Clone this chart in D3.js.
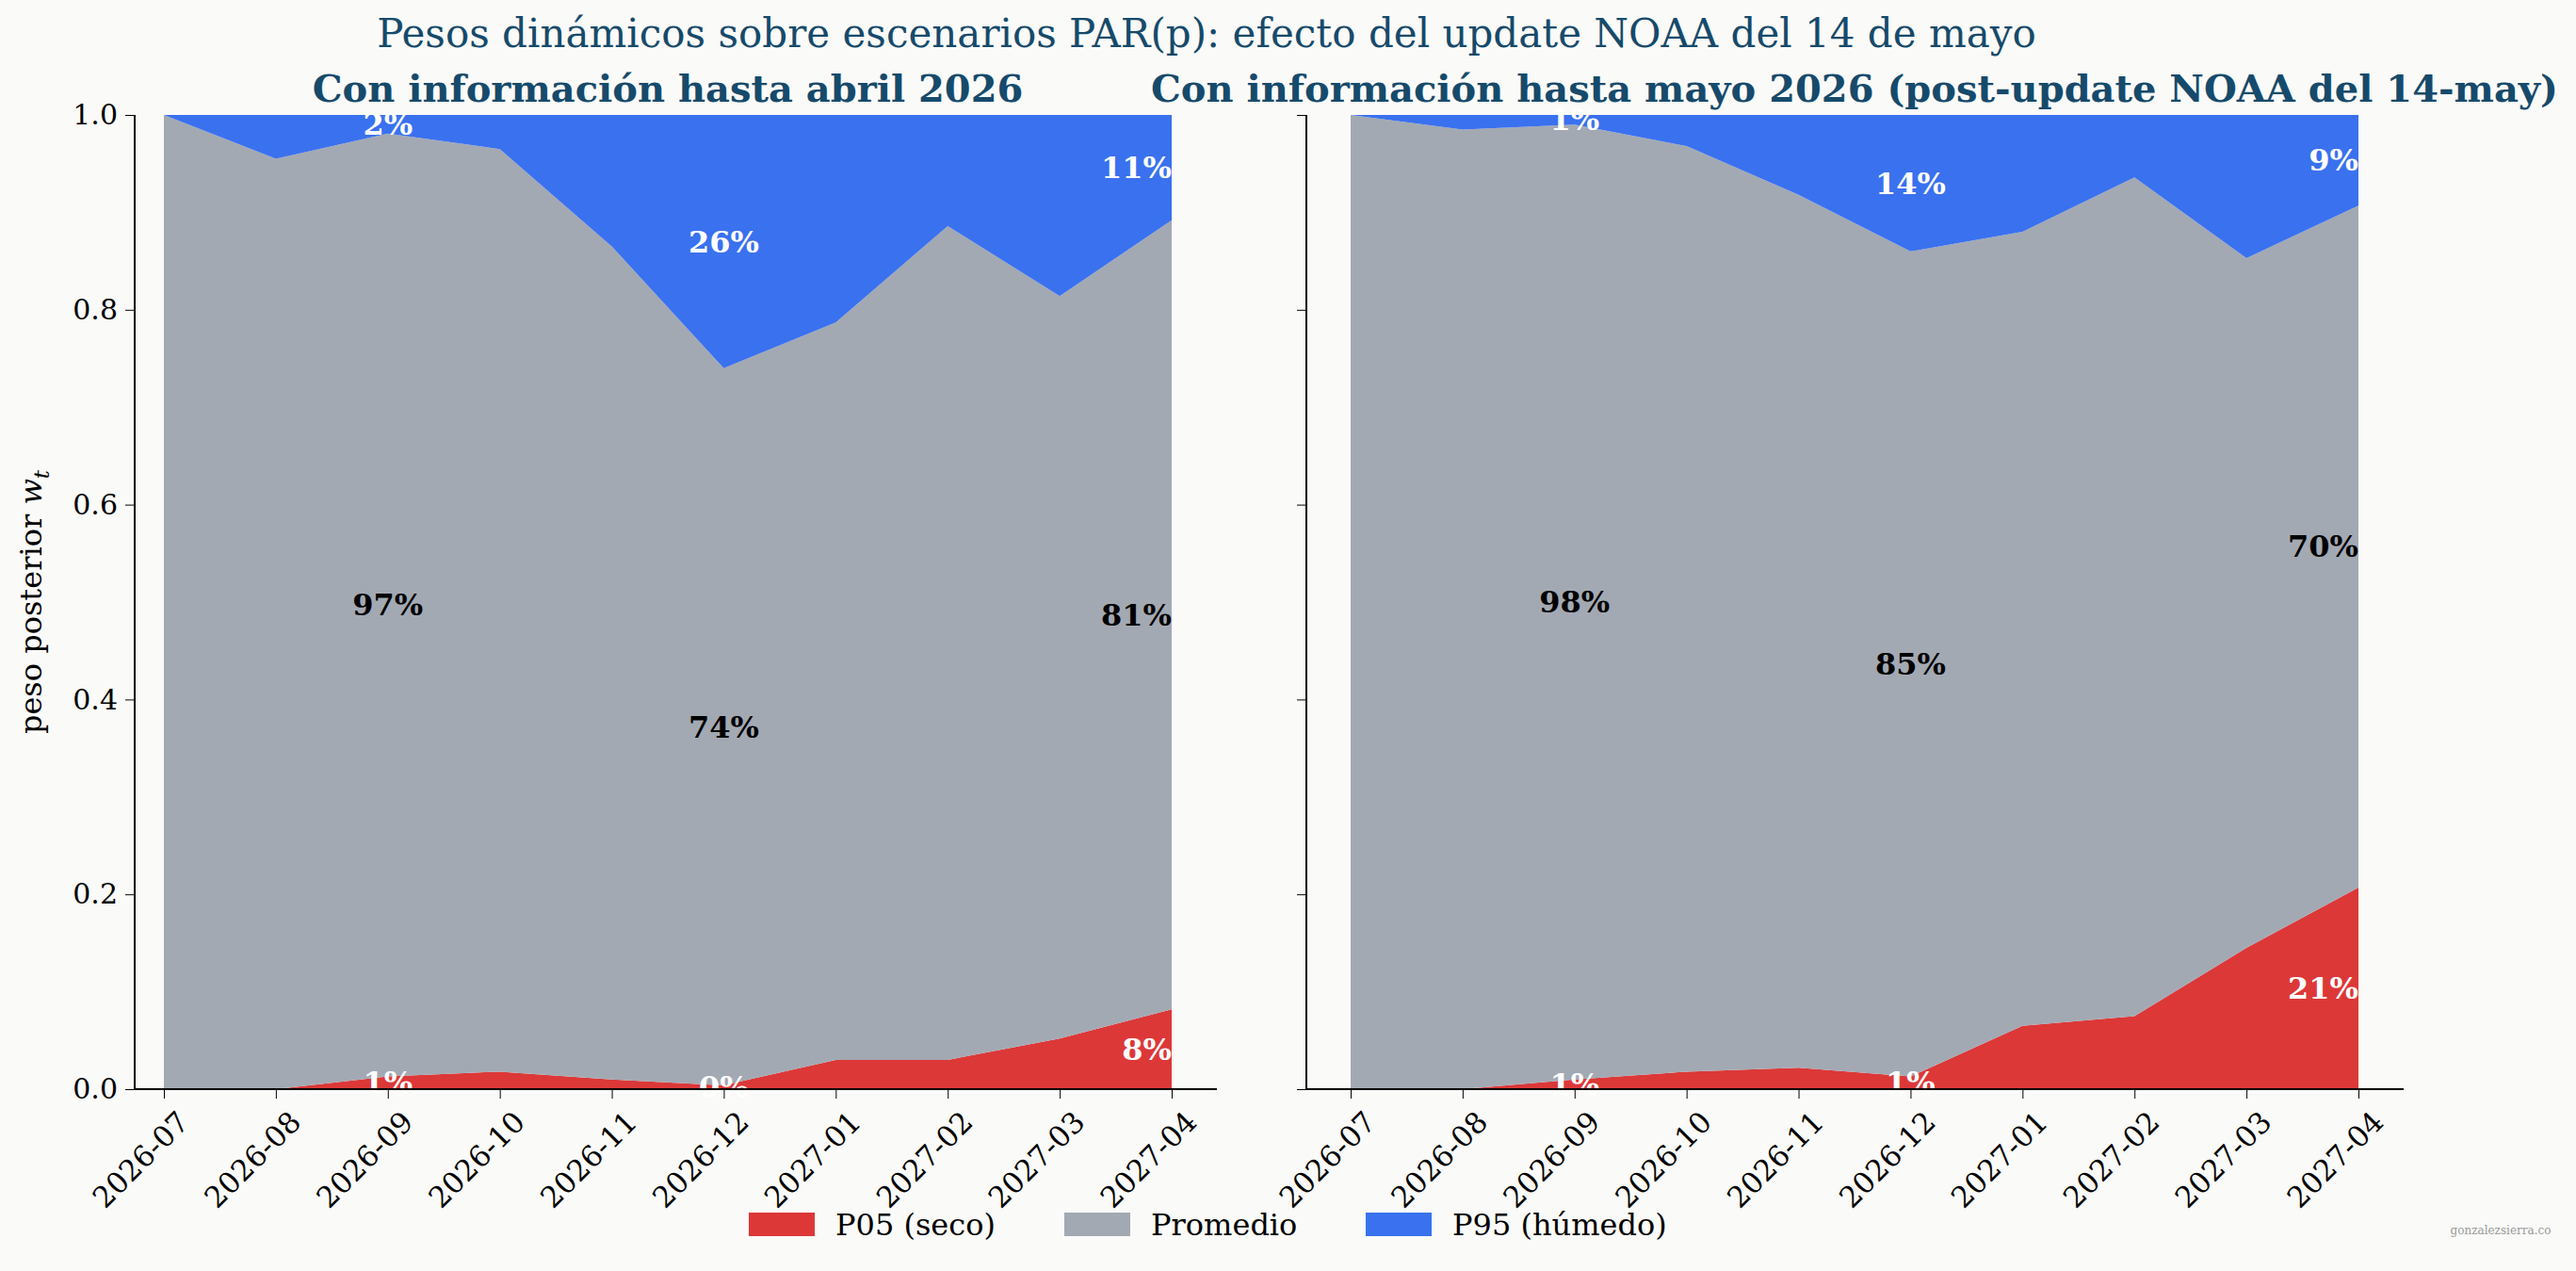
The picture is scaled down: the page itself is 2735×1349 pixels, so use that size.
<!DOCTYPE html>
<html><head><meta charset="utf-8">
<script src="https://cdn.jsdelivr.net/npm/d3@7"></script>
<style>body{margin:0;background:#fafaf8}text{font-family:"DejaVu Serif",serif}</style>
</head><body><svg id="chart" width="2735" height="1349"></svg>
<script>
// months on the x axis
var months = ["2026-07","2026-08","2026-09","2026-10","2026-11","2026-12","2027-01","2027-02","2027-03","2027-04"];
// panel A: info until April
var aprP05 = [0, 0, 0.013, 0.018, 0.010, 0.004, 0.030, 0.030, 0.052, 0.082];
var aprProm = [1.0, 0.955, 0.968, 0.947, 0.855, 0.736, 0.757, 0.856, 0.762, 0.810];
var aprP95 = [0, 0.045, 0.019, 0.035, 0.135, 0.260, 0.213, 0.114, 0.186, 0.108];
// panel B: info until May
var mayP05 = [0, 0, 0.010, 0.018, 0.022, 0.013, 0.065, 0.075, 0.145, 0.207];
var mayProm = [1.0, 0.985, 0.980, 0.950, 0.896, 0.847, 0.815, 0.861, 0.708, 0.700];
var mayP95 = [0, 0.015, 0.010, 0.032, 0.082, 0.140, 0.120, 0.064, 0.147, 0.093];
var labelIdx = [2, 5, 9];
var yTicks = [0, 0.2, 0.4, 0.6, 0.8, 1.0];

var colors = ["#dc3838", "#a3a9b3", "#3a71ee"];
var names = ["P05 (seco)", "Promedio", "P95 (húmedo)"];
var svg = d3.select("#chart");

svg.append("text").attr("x", 1281).attr("y", 50).attr("text-anchor", "middle")
  .attr("font-size", 42).attr("fill", "#164a6b")
  .text("Pesos dinámicos sobre escenarios PAR(p): efecto del update NOAA del 14 de mayo");

function panel(x0, spineX, title, p05, prom, p95, showY) {
  var x = d3.scalePoint().domain(months).range([x0, x0 + 1070]);
  var y = d3.scaleLinear().domain([0, 1]).range([1156, 122]);
  var g = svg.append("g");
  var rows = months.map(function(m, i) { return {m: m, a: p05[i], b: prom[i], c: p95[i]}; });
  var stack = d3.stack().keys(["a", "b", "c"])(rows);
  var area = d3.area().x(function(d) { return x(d.data.m); })
    .y0(function(d) { return y(d[0]); }).y1(function(d) { return y(d[1]); });
  g.selectAll("path.s").data(stack).join("path").attr("d", area)
    .attr("fill", function(d, i) { return colors[i]; });

  // percent labels
  stack.forEach(function(s, k) {
    labelIdx.forEach(function(i) {
      var d = s[i];
      var last = i === months.length - 1;
      g.append("text").attr("x", x(months[i])).attr("y", y((d[0] + d[1]) / 2))
        .attr("dy", "0.35em").attr("text-anchor", last ? "end" : "middle")
        .attr("font-size", 32).attr("font-weight", "bold")
        .attr("fill", k === 1 ? "#000" : "#fff")
        .text(Math.round((d[1] - d[0]) * 100) + "%");
    });
  });

  var xa = g.append("g").attr("transform", "translate(0,1156)")
    .call(d3.axisBottom(x).tickSize(10).tickPadding(8));
  xa.select(".domain").attr("d", "M" + spineX + ",0H" + (x0 + 1118)).attr("stroke-width", 2);
  xa.selectAll("text").attr("font-size", 31).attr("fill", "#000").attr("text-anchor", "end")
    .attr("transform", "rotate(-45)").attr("dx", "-0.2em").attr("dy", "0.9em");

  var ya = g.append("g").attr("transform", "translate(" + spineX + ",0)")
    .call(d3.axisLeft(y).tickValues(yTicks).tickSize(10).tickPadding(8)
      .tickFormat(showY ? d3.format(".1f") : ""));
  ya.select(".domain").attr("d", "M0,122V1156").attr("stroke-width", 2);
  ya.selectAll("text").attr("font-size", 30).attr("fill", "#000");

  svg.append("text").attr("x", (x0 + x0 + 1070) / 2).attr("y", 108).attr("text-anchor", "middle")
    .attr("font-size", 40).attr("font-weight", "bold").attr("fill", "#164a6b").text(title);
}

panel(174, 143, "Con información hasta abril 2026", aprP05, aprProm, aprP95, true);
panel(1434, 1387, "Con información hasta mayo 2026 (post-update NOAA del 14-may)", mayP05, mayProm, mayP95, false);

var yl = svg.append("text").attr("transform", "translate(44,639) rotate(-90)")
  .attr("text-anchor", "middle").attr("font-size", 32);
yl.append("tspan").text("peso posterior ");
yl.append("tspan").attr("font-style", "italic").text("w");
yl.append("tspan").attr("font-style", "italic").attr("font-size", 23).attr("dy", 8).text("t");

var lg = svg.append("g").attr("transform", "translate(795,1300)");
var offs = [0, 335, 655];
names.forEach(function(n, i) {
  lg.append("rect").attr("x", offs[i]).attr("y", -13).attr("width", 70).attr("height", 25).attr("fill", colors[i]);
  lg.append("text").attr("x", offs[i] + 92).attr("y", 0).attr("dy", "0.35em")
    .attr("font-size", 32).text(n);
});

svg.append("text").attr("x", 2655).attr("y", 1310).attr("text-anchor", "middle")
  .attr("font-size", 12).attr("fill", "#999").text("gonzalezsierra.co");
</script></body></html>
